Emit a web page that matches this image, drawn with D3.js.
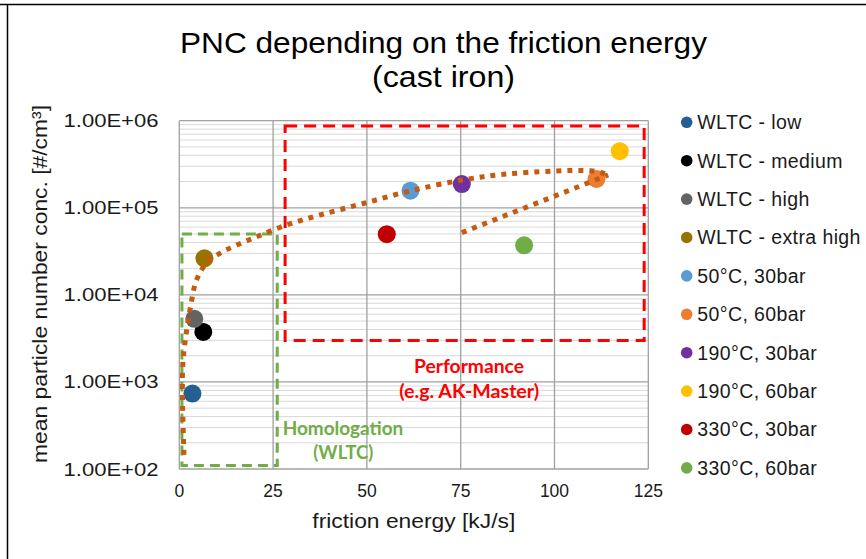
<!DOCTYPE html>
<html>
<head>
<meta charset="utf-8">
<script src="https://cdn.jsdelivr.net/npm/d3@7"></script>
<style>
  html, body { margin: 0; padding: 0; background: #fff; }
  svg { display: block; font-family: "Liberation Sans", Arial, sans-serif; }
</style>
</head>
<body>
<svg id="chart" width="866" height="559"></svg>
<script>
// ---------------- data ----------------
const seriesNames = ["WLTC - low", "WLTC - medium", "WLTC - high", "WLTC - extra high",
  "50°C, 30bar", "50°C, 60bar", "190°C, 30bar", "190°C, 60bar", "330°C, 30bar", "330°C, 60bar"];
const frictionEnergy = [3.5, 6.4, 4.0, 6.7, 61.6, 111.2, 75.3, 117.4, 55.3, 91.9];
const particleConc = [735, 3750, 5300, 26300, 157000, 214000, 187000, 446000, 49700, 37000];
const seriesColors = ["#255E91", "#000000", "#636363", "#997300", "#5B9BD5", "#ED7D31",
  "#7030A0", "#FFC000", "#C00000", "#70AD47"];

const xTicks = [0, 25, 50, 75, 100, 125];
const yTicks = [1e2, 1e3, 1e4, 1e5, 1e6];
const yTickLabels = ["1.00E+02", "1.00E+03", "1.00E+04", "1.00E+05", "1.00E+06"];

// trend curve (hand drawn in original)
const trendUpperX = [1.25, 0.9, 0.9, 1.5, 2.85, 4.6, 7.3, 10.8, 15.3, 21.1, 28.6, 37.5, 49.0, 61.5, 75.3, 86.4, 99.7, 109.5, 113.0, 114.3];
const trendUpperY = [145, 476, 1480, 2800, 6700, 14800, 23200, 30000, 37300, 47400, 63400, 82600, 112000, 156000, 208000, 242000, 264000, 266000, 249000, 238000];
const trendLowerX = [75.3, 114.3];
const trendLowerY = [51800, 238000];

// annotation boxes [xmin, xmax, ymin, ymax]
const homologationBox = [0.7, 26.1, 110, 50000];
const performanceBox = [28.2, 123.9, 3000, 870000];

// ---------------- drawing ----------------
const svg = d3.select("#chart");
const x = d3.scaleLinear().domain([0, 125]).range([179.3, 648.3]);
const y = d3.scaleLog().domain([100, 1e6]).range([469, 120.7]);

// frame
svg.append("line").attr("x1", 0).attr("x2", 866).attr("y1", 4.5).attr("y2", 4.5)
  .attr("stroke", "#000").attr("stroke-width", 1.5);
svg.append("line").attr("x1", 7.5).attr("x2", 7.5).attr("y1", 4).attr("y2", 559)
  .attr("stroke", "#000").attr("stroke-width", 1.5);

// minor grid
const minor = [];
yTicks.slice(0, -1).forEach(d => { for (let k = 2; k <= 9; k++) minor.push(d * k); });
svg.append("g").selectAll("line").data(minor).join("line")
  .attr("x1", x(0)).attr("x2", x(125))
  .attr("y1", d => y(d)).attr("y2", d => y(d))
  .attr("stroke", "#D9D9D9").attr("stroke-width", 1);

// major grid
svg.append("g").selectAll("line").data(yTicks).join("line")
  .attr("x1", x(0)).attr("x2", x(125))
  .attr("y1", d => y(d)).attr("y2", d => y(d))
  .attr("stroke", "#A0A0A0").attr("stroke-width", 1.3);
svg.append("g").selectAll("line").data(xTicks).join("line")
  .attr("x1", d => x(d)).attr("x2", d => x(d))
  .attr("y1", y(1e6)).attr("y2", y(1e2))
  .attr("stroke", "#A0A0A0").attr("stroke-width", 1.3);

// y tick labels
svg.append("g").selectAll("text").data(yTicks).join("text")
  .attr("x", 158.5).attr("y", d => y(d) + 6.5)
  .attr("text-anchor", "end")
  .attr("font-size", 18).attr("fill", "#1a1a1a")
  .attr("textLength", 95).attr("lengthAdjust", "spacingAndGlyphs")
  .text((d, i) => yTickLabels[i]);

// x tick labels
svg.append("g").selectAll("text").data(xTicks).join("text")
  .attr("x", d => x(d)).attr("y", 496.5)
  .attr("text-anchor", "middle")
  .attr("font-size", 17.5).attr("fill", "#1a1a1a")
  .text(d => d);

// axis titles
svg.append("text").attr("x", (x(0) + x(125)) / 2).attr("y", 527.5)
  .attr("text-anchor", "middle").attr("font-size", 21).attr("fill", "#1a1a1a")
  .attr("textLength", 203).attr("lengthAdjust", "spacingAndGlyphs")
  .text("friction energy [kJ/s]");
svg.append("text").attr("transform", "translate(46.5,284) rotate(-90)")
  .attr("text-anchor", "middle").attr("font-size", 21).attr("fill", "#1a1a1a")
  .attr("textLength", 358).attr("lengthAdjust", "spacingAndGlyphs")
  .text("mean particle number conc. [#/cm³]");

// title
svg.append("text").attr("x", 443.5).attr("y", 52.5).attr("text-anchor", "middle")
  .attr("font-size", 30).attr("fill", "#000")
  .attr("textLength", 527).attr("lengthAdjust", "spacingAndGlyphs")
  .text("PNC depending on the friction energy");
svg.append("text").attr("x", 443.5).attr("y", 87).attr("text-anchor", "middle")
  .attr("font-size", 30).attr("fill", "#000")
  .attr("textLength", 143).attr("lengthAdjust", "spacingAndGlyphs")
  .text("(cast iron)");

// annotation boxes
function box(b, color, dash) {
  svg.append("rect")
    .attr("x", x(b[0])).attr("y", y(b[3]))
    .attr("width", x(b[1]) - x(b[0])).attr("height", y(b[2]) - y(b[3]))
    .attr("fill", "none").attr("stroke", color).attr("stroke-width", 3)
    .attr("stroke-dasharray", dash);
}
box(homologationBox, "#70AD47", "10,6");
box(performanceBox, "#FF0000", "12,7");

// markers
const idx = d3.range(seriesNames.length);
svg.append("g").selectAll("circle").data(idx).join("circle")
  .attr("cx", i => x(frictionEnergy[i])).attr("cy", i => y(particleConc[i]))
  .attr("r", 9).attr("fill", i => seriesColors[i]);

// trend curve
const line = d3.line().x(d => x(d[0])).y(d => y(d[1]));
svg.append("path")
  .attr("d", line.curve(d3.curveCatmullRom.alpha(0.5))(d3.zip(trendUpperX, trendUpperY)))
  .attr("fill", "none").attr("stroke", "#C55A11").attr("stroke-width", 5)
  .attr("stroke-dasharray", "5,6");
svg.append("path")
  .attr("d", d3.line().x(d => x(d[0])).y(d => y(d[1]))(d3.zip(trendLowerX, trendLowerY)))
  .attr("fill", "none").attr("stroke", "#C55A11").attr("stroke-width", 5)
  .attr("stroke-dasharray", "5,6");

// annotation texts
const annFont = "Lato, 'Open Sans', sans-serif";
function ann(txt, cx, by, len, color) {
  svg.append("text").attr("x", cx).attr("y", by).attr("text-anchor", "middle")
    .attr("font-family", annFont).attr("font-weight", "bold").attr("font-size", 18.5)
    .attr("fill", color).attr("textLength", len).attr("lengthAdjust", "spacingAndGlyphs")
    .text(txt);
}
ann("Performance", 469, 373, 110, "#FF0000");
ann("(e.g. AK-Master)", 469.2, 398, 140, "#FF0000");
ann("Homologation", 343, 435, 120.6, "#70AD47");
ann("(WLTC)", 343.3, 459, 60, "#70AD47");

// legend
const lg = svg.append("g").selectAll("g").data(idx).join("g")
  .attr("transform", i => `translate(686.7,${122.3 + i * 38.4})`);
lg.append("circle").attr("r", 5.8).attr("fill", i => seriesColors[i]);
lg.append("text").attr("x", 10.6).attr("y", 6.8)
  .attr("font-size", 19.5).attr("letter-spacing", 0.4).attr("fill", "#1a1a1a")
  .text(i => seriesNames[i]);
</script>
</body>
</html>
